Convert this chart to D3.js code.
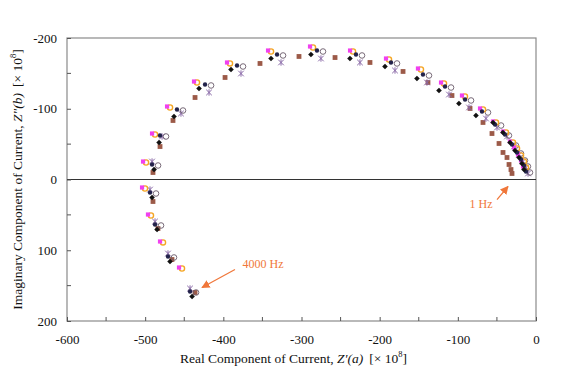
<!DOCTYPE html>
<html>
<head>
<meta charset="utf-8">
<script src="https://cdn.jsdelivr.net/npm/d3@7"></script>
<style>
  body { margin: 0; background: #fff; }
  text { font-family: "Liberation Serif", "Times New Roman", serif; }
</style>
</head>
<body>
<script>
"use strict";

// tick values
const xTicks = [-600, -500, -400, -300, -200, -100, 0];
const yTicks = [-200, -100, 0, 100, 200];
const minorTicksX = [-550, -450, -350, -250, -150, -50];
const minorTicksY = [-150, -50, 50, 150];

// series, 4000 Hz -> 1 Hz, [real, imaginary]
const brownSquares = [
  [-436.2, 159.7], [-465.7, 113.1], [-483.6, 69.3], [-490.0, 31.1], [-490.0, -9.9],
  [-481.0, -46.6], [-464.4, -83.4], [-436.2, -115.9], [-397.8, -144.2], [-353.1, -164.0],
  [-303.2, -173.9], [-257.1, -172.4], [-212.4, -165.4], [-170.1, -152.7], [-138.2, -137.1],
  [-107.5, -118.7], [-84.4, -100.4], [-67.8, -80.6], [-56.3, -65.0], [-47.3, -50.9],
  [-42.2, -38.2], [-37.1, -31.1], [-34.5, -21.2], [-32.0, -14.1], [-30.7, -8.5]
];
const blackDiamonds = [
  [-440.0, 165.3], [-468.2, 115.8], [-484.8, 70.6], [-491.2, 25.4], [-488.6, -14.2],
  [-482.2, -52.3], [-463.1, -89.1], [-431.1, -128.6], [-390.2, -155.4], [-339.0, -171.0],
  [-287.9, -176.6], [-238.0, -171.0], [-193.2, -159.7], [-152.3, -142.7], [-124.1, -125.7],
  [-98.6, -107.4], [-76.8, -90.4], [-55.0, -80.5], [-42.3, -66.4], [-33.3, -52.3],
  [-26.9, -41.0], [-21.8, -31.1], [-18.0, -22.6], [-15.4, -14.1]
];
const magentaSquares = [
  [-456.7, 124.4], [-481.0, 87.6], [-496.4, 49.5], [-504.0, 11.3], [-502.7, -25.4],
  [-491.2, -65.0], [-472.0, -103.2], [-437.5, -138.5], [-395.3, -165.4], [-342.8, -182.3],
  [-289.1, -188.0], [-237.9, -182.3], [-191.9, -171.0], [-151.0, -156.9], [-121.5, -137.1],
  [-94.7, -118.7], [-71.6, -100.4], [-55.0, -82.0], [-42.2, -67.8], [-33.3, -53.7],
  [-28.1, -45.2], [-23.0, -35.3], [-19.2, -26.9], [-16.6, -18.4]
];
const orangeCircles = [
  [-452.9, 125.8], [-477.2, 89.0], [-492.6, 50.9], [-500.2, 12.7], [-498.9, -24.0],
  [-487.4, -63.6], [-468.2, -101.8], [-433.7, -137.1], [-391.5, -164.0], [-339.0, -180.9],
  [-285.3, -186.6], [-234.1, -180.9], [-188.1, -169.6], [-147.2, -155.5], [-117.7, -135.7],
  [-90.9, -117.3], [-67.8, -99.0], [-51.2, -80.6], [-38.4, -66.4], [-29.5, -52.3],
  [-24.3, -43.8], [-19.2, -33.9], [-15.4, -25.5], [-12.8, -17.0]
];
const navyDots = [
  [-442.6, 158.3], [-470.8, 108.8], [-487.4, 63.6], [-493.8, 18.4], [-491.2, -21.2],
  [-481.0, -62.2], [-459.3, -98.9], [-423.4, -134.3], [-382.5, -161.1], [-331.3, -176.7],
  [-280.2, -182.3], [-230.3, -176.7], [-185.5, -165.4], [-144.6, -148.4], [-116.4, -131.4],
  [-90.8, -113.1], [-69.1, -96.1], [-52.4, -77.7], [-39.7, -63.6], [-30.7, -49.5],
  [-24.3, -38.2], [-19.2, -28.3], [-15.4, -19.8], [-12.8, -11.3]
];
const openCircles = [
  [-434.9, 159.7], [-463.1, 110.2], [-479.7, 65.0], [-486.1, 19.8], [-483.5, -19.8],
  [-473.3, -60.8], [-451.6, -97.5], [-415.7, -132.9], [-374.8, -159.7], [-323.6, -175.3],
  [-272.5, -180.9], [-222.6, -175.3], [-177.8, -164.0], [-136.9, -147.0], [-108.7, -130.0],
  [-83.1, -111.7], [-61.4, -94.7], [-44.7, -76.3], [-34.6, -62.2], [-25.6, -48.1],
  [-19.2, -36.8], [-14.1, -26.9], [-10.3, -18.4], [-7.7, -9.9]
];
const purpleCrosses = [
  [-442.6, 154.1], [-470.8, 104.6], [-487.4, 59.4], [-493.8, 14.2], [-491.2, -25.4],
  [-478.4, -60.8], [-454.2, -93.3], [-418.3, -123.0], [-377.4, -149.8], [-326.2, -165.4],
  [-275.1, -171.0], [-225.2, -165.4], [-180.4, -154.1], [-139.5, -137.1], [-111.3, -120.1],
  [-85.7, -101.8], [-64.0, -86.2], [-49.9, -73.5], [-37.1, -60.8], [-28.1, -46.7],
  [-21.7, -35.3], [-16.6, -25.5], [-12.8, -17.0], [-10.2, -8.5]
];

// annotations: label, label position, arrow start, arrow tip
const notes = [
  { label: "1 Hz", at: [-70.4, 40.5], from: [-49.9, 28.3], to: [-35.8, 9.9] },
  { label: "4000 Hz", at: [-349.2, 125.5], from: [-385.1, 127.2], to: [-427.3, 152.7] }
];

const m = { width: 571, height: 390, left: 67, right: 35, top: 38, bottom: 69 };

const svg = d3
  .select("body")
  .append("svg")
  .attr("width", m.width)
  .attr("height", m.height);

const x = d3.scaleLinear().domain([-600, 0]).range([m.left, m.width - m.right]);
const y = d3.scaleLinear().domain([-200, 200]).range([m.top, m.height - m.bottom]);

// frame
svg.append("rect")
  .attr("x", x(-600))
  .attr("y", y(-200))
  .attr("width", x(0) - x(-600))
  .attr("height", y(200) - y(-200))
  .attr("fill", "none")
  .attr("stroke", "#8a8a8a")
  .attr("stroke-width", 1.2);

// zero line
svg.append("line")
  .attr("x1", x(-600)).attr("x2", x(0))
  .attr("y1", y(0)).attr("y2", y(0))
  .attr("stroke", "#333")
  .attr("stroke-width", 1);

// axes with inward ticks, plain hyphen for negatives
const fmt = d => String(d);
const xAxis = svg.append("g")
  .attr("transform", `translate(0,${y(200)})`)
  .call(d3.axisBottom(x).tickValues(xTicks).tickSize(-4).tickPadding(14).tickFormat(fmt));
const yAxis = svg.append("g")
  .attr("transform", `translate(${x(-600)},0)`)
  .call(d3.axisLeft(y).tickValues(yTicks).tickSize(-4).tickPadding(10).tickFormat(fmt));

[xAxis, yAxis].forEach(a => {
  a.select(".domain").remove();
  a.selectAll(".tick line").attr("stroke", "#555");
  a.selectAll(".tick text")
    .attr("font-family", "Liberation Serif")
    .attr("font-size", 13)
    .attr("fill", "#111");
});

svg.append("g")
  .selectAll("line")
  .data(minorTicksX)
  .enter()
  .append("line")
  .attr("x1", d => x(d)).attr("x2", d => x(d))
  .attr("y1", y(200)).attr("y2", y(200) - 4)
  .attr("stroke", "#555");
svg.append("g")
  .selectAll("line")
  .data(minorTicksY)
  .enter()
  .append("line")
  .attr("x1", x(-600)).attr("x2", x(-600) + 4)
  .attr("y1", d => y(d)).attr("y2", d => y(d))
  .attr("stroke", "#555");

// markers
const pts = svg.append("g");

pts.selectAll(".brown")
  .data(brownSquares)
  .enter()
  .append("rect")
  .attr("x", d => x(d[0]) - 2.4)
  .attr("y", d => y(d[1]) - 2.4)
  .attr("width", 4.8)
  .attr("height", 4.8)
  .attr("fill", "#9c5a48");

pts.selectAll(".purple")
  .data(purpleCrosses)
  .enter()
  .append("path")
  .attr("transform", d => `translate(${x(d[0])},${y(d[1])})`)
  .attr("d", "M-2.8,-2.8L2.8,2.8M-2.8,2.8L2.8,-2.8M0,-3.2L0,3.2")
  .attr("stroke", "#8a6aa8")
  .attr("stroke-width", 1)
  .attr("fill", "none");

pts.selectAll(".open")
  .data(openCircles)
  .enter()
  .append("circle")
  .attr("cx", d => x(d[0]))
  .attr("cy", d => y(d[1]))
  .attr("r", 2.8)
  .attr("fill", "none")
  .attr("stroke", "#6a5a6a")
  .attr("stroke-width", 0.9);

pts.selectAll(".orange")
  .data(orangeCircles)
  .enter()
  .append("circle")
  .attr("cx", d => x(d[0]))
  .attr("cy", d => y(d[1]))
  .attr("r", 2.6)
  .attr("fill", "none")
  .attr("stroke", "#f5a623")
  .attr("stroke-width", 1.4);

pts.selectAll(".magenta")
  .data(magentaSquares)
  .enter()
  .append("rect")
  .attr("x", d => x(d[0]) - 2.1)
  .attr("y", d => y(d[1]) - 2.1)
  .attr("width", 4.2)
  .attr("height", 4.2)
  .attr("fill", "#f040f0");

pts.selectAll(".navy")
  .data(navyDots)
  .enter()
  .append("circle")
  .attr("cx", d => x(d[0]))
  .attr("cy", d => y(d[1]))
  .attr("r", 2.2)
  .attr("fill", "#23234a");

pts.selectAll(".diamond")
  .data(blackDiamonds)
  .enter()
  .append("path")
  .attr("transform", d => `translate(${x(d[0])},${y(d[1])})`)
  .attr("d", "M0,-2.8L2.8,0L0,2.8L-2.8,0Z")
  .attr("fill", "#111");

// annotations
const orange = "#f0773a";
svg.append("defs")
  .append("marker")
  .attr("id", "head")
  .attr("viewBox", "0 0 10 10")
  .attr("refX", 9)
  .attr("refY", 5)
  .attr("markerWidth", 7)
  .attr("markerHeight", 7)
  .attr("orient", "auto")
  .append("path")
  .attr("d", "M0,0L10,5L0,10Z")
  .attr("fill", orange);

const ann = svg.append("g");
ann.selectAll("line")
  .data(notes)
  .enter()
  .append("line")
  .attr("x1", d => x(d.from[0]))
  .attr("y1", d => y(d.from[1]))
  .attr("x2", d => x(d.to[0]))
  .attr("y2", d => y(d.to[1]))
  .attr("stroke", orange)
  .attr("stroke-width", 1.2)
  .attr("marker-end", "url(#head)");
ann.selectAll("text")
  .data(notes)
  .enter()
  .append("text")
  .attr("x", d => x(d.at[0]))
  .attr("y", d => y(d.at[1]))
  .attr("text-anchor", "middle")
  .attr("font-size", 12)
  .attr("fill", orange)
  .text(d => d.label);

// axis titles
const xt = svg.append("text")
  .attr("x", (x(-600) + x(0)) / 2 - 8)
  .attr("y", 363)
  .attr("text-anchor", "middle")
  .attr("font-size", 13.5)
  .attr("fill", "#111");
xt.append("tspan").text("Real Component of Current, ");
xt.append("tspan").attr("font-style", "italic").text("Z'(a)");
xt.append("tspan").attr("dx", 6).text("[× 10");
xt.append("tspan").attr("font-size", 8.5).attr("dy", -6).text("8");
xt.append("tspan").attr("dy", 6).text("]");

const yt = svg.append("text")
  .attr("transform", `translate(22,${y(0)}) rotate(-90)`)
  .attr("text-anchor", "middle")
  .attr("font-size", 13.5)
  .attr("fill", "#111");
yt.append("tspan").text("Imaginary Component of Current, ");
yt.append("tspan").attr("font-style", "italic").text("Z\"(b)");
yt.append("tspan").attr("dx", 6).text("[× 10");
yt.append("tspan").attr("font-size", 8.5).attr("dy", -6).text("8");
yt.append("tspan").attr("dy", 6).text("]");
</script>
</body>
</html>
